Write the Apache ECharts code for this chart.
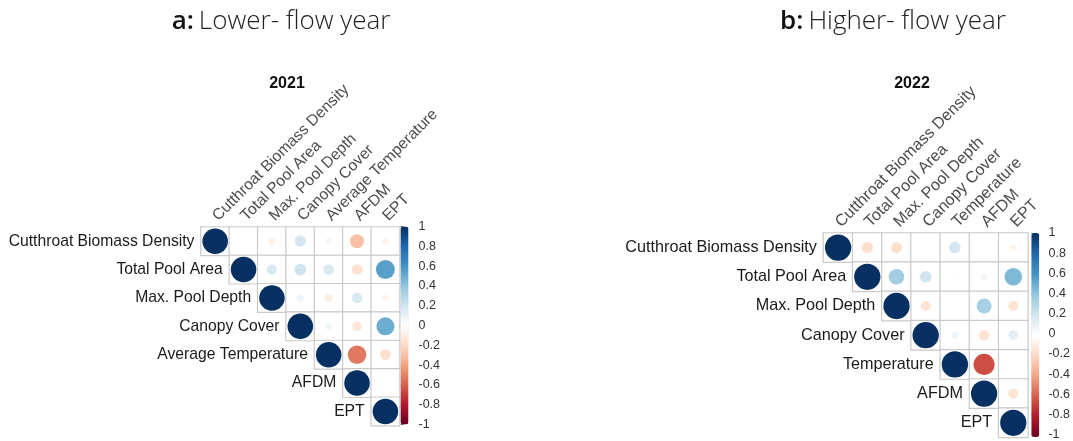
<!DOCTYPE html>
<html>
<head>
<meta charset="utf-8">
<script src="https://cdn.jsdelivr.net/npm/echarts@6/dist/echarts.min.js"></script>
<style>
  html, body { margin: 0; padding: 0; background: #fff; }
  #chart { width: 1073px; height: 441px; }
</style>
</head>
<body>
<div id="chart"></div>
<script>
// Variable names for each year's correlation matrix
const vars2021 = ['Cutthroat Biomass Density', 'Total Pool Area', 'Max. Pool Depth', 'Canopy Cover', 'Average Temperature', 'AFDM', 'EPT'];
const vars2022 = ['Cutthroat Biomass Density', 'Total Pool Area', 'Max. Pool Depth', 'Canopy Cover', 'Temperature', 'AFDM', 'EPT'];

// Upper-triangle Pearson correlations, row i holds columns i..6
const corr2021 = [
  [1, 0.01, -0.07, 0.19, 0.06, -0.30, -0.06],
  [1, 0.16, 0.21, 0.17, -0.17, 0.55],
  [1, 0.08, -0.10, 0.17, -0.06],
  [1, 0.07, -0.14, 0.50],
  [1, -0.53, -0.17],
  [1, 0.01],
  [1]
];
const corr2022 = [
  [1, -0.18, -0.18, -0.01, 0.19, 0.02, -0.06],
  [1, 0.35, 0.20, 0.02, 0.06, 0.45],
  [1, -0.15, 0.01, 0.33, -0.15],
  [1, 0.07, -0.16, 0.13],
  [1, -0.65, 0.00],
  [1, -0.15],
  [1]
];

// Colour bar scale
const scaleMin = -1, scaleMax = 1, scaleStep = 0.2;
const rdBu = ['#67001F', '#B2182B', '#D6604D', '#F4A582', '#FDDBC7', '#FFFFFF',
              '#D1E5F0', '#92C5DE', '#4393C3', '#2166AC', '#053061'];

const LABEL_FONT = '"Liberation Sans", Arial, sans-serif';
const LABEL_COLOR = '#1a1a1a';

function toPoints(corr) {
  const pts = [];
  corr.forEach((row, i) => row.forEach((v, k) => pts.push([i + k, i, v])));
  return pts;
}

function buildPanel(names, corr, box, fontSize) {
  const cell = box.size / names.length;
  const pts = toPoints(corr);
  const cells = pts.map(p => [p[0], p[1], 0]);
  // row names sit to the left of the diagonal circles
  const circles = pts.map(p => {
    const item = { value: p };
    if (p[0] === p[1]) {
      item.label = {
        show: true, position: 'left', distance: 8,
        formatter: () => names[p[1]],
        fontFamily: LABEL_FONT, fontSize: fontSize, color: LABEL_COLOR
      };
    }
    return item;
  });
  // column names: slanted text above each column of the first row
  const heads = names.map((n, j) => ({ value: [j, 0], name: n }));
  return { cell, cells, circles, heads, fontSize };
}

const boxL = { left: 201, top: 227, size: 198.6 };
const boxR = { left: 823.5, top: 233, size: 204.4 };
const panelL = buildPanel(vars2021, corr2021, boxL, 15.7);
const panelR = buildPanel(vars2022, corr2022, boxR, 16.2);

function matrixXAxis(idx, names) {
  return { gridIndex: idx, type: 'category', data: names, show: false };
}
function matrixYAxis(idx, names) {
  return { gridIndex: idx, type: 'category', data: names, inverse: true, show: false };
}
function barYAxis(idx) {
  return {
    gridIndex: idx, type: 'value', position: 'right',
    min: scaleMin, max: scaleMax, interval: scaleStep,
    axisLine: { show: false }, splitLine: { show: false },
    axisTick: { show: true, length: 3, lineStyle: { color: '#666' } },
    axisLabel: { margin: 10, fontFamily: LABEL_FONT, fontSize: 12.5, color: '#333' }
  };
}
function cellSeries(idx, data) {
  return {
    type: 'heatmap', xAxisIndex: idx, yAxisIndex: idx, data: data,
    itemStyle: { color: '#fff', borderColor: '#c9c9c9', borderWidth: 1.2 },
    emphasis: { disabled: true }, silent: true, z: 1
  };
}
function circleSeries(idx, data, cell) {
  return {
    type: 'scatter', xAxisIndex: idx, yAxisIndex: idx, data: data,
    symbol: 'circle',
    symbolSize: v => 0.9 * cell * Math.sqrt(Math.abs(v[2])),
    itemStyle: { opacity: 1 },
    emphasis: { disabled: true }, silent: true, z: 3
  };
}
function headerSeries(idx, panel) {
  return {
    type: 'scatter', xAxisIndex: idx, yAxisIndex: idx, data: panel.heads,
    symbol: 'rect', symbolSize: panel.cell,
    itemStyle: { color: 'rgba(0,0,0,0)' },
    label: {
      show: true, position: 'top', distance: 8.5, rotate: 45,
      align: 'left', verticalAlign: 'middle',
      formatter: p => p.name,
      fontFamily: LABEL_FONT, fontSize: panel.fontSize, color: LABEL_COLOR
    },
    labelLayout: { hideOverlap: false },
    emphasis: { disabled: true }, silent: true, z: 4
  };
}
function colourBar(seriesIndex, left, top, h) {
  return {
    type: 'continuous', seriesIndex: seriesIndex, dimension: 2,
    min: scaleMin, max: scaleMax, calculable: false, hoverLink: false,
    inRange: { color: rdBu }, left: left, top: top, padding: 0,
    itemWidth: 8, itemHeight: h, text: null, textGap: 0, show: true
  };
}

const headerRich = {
  b: { fontFamily: '"Open Sans", sans-serif', fontSize: 26, fontWeight: 600, color: '#111' },
  n: { fontFamily: '"Open Sans", sans-serif', fontSize: 26, fontWeight: 300, color: '#222' }
};

const option = {
  backgroundColor: '#fff',
  animation: false,
  title: [
    { text: '{b|a:} {n|Lower- flow year}', left: 276, top: 4, textAlign: 'center', textStyle: { rich: headerRich } },
    { text: '{b|b:} {n|Higher- flow year}', left: 888, top: 4, textAlign: 'center', textStyle: { rich: headerRich } },
    { text: '2021', left: 282, top: 71, textAlign: 'center',
      textStyle: { fontFamily: LABEL_FONT, fontSize: 16, fontWeight: 'bold', color: '#111' } },
    { text: '2022', left: 907, top: 71, textAlign: 'center',
      textStyle: { fontFamily: LABEL_FONT, fontSize: 16, fontWeight: 'bold', color: '#111' } }
  ],
  grid: [
    { left: boxL.left, top: boxL.top, width: boxL.size, height: boxL.size },
    { left: boxR.left, top: boxR.top, width: boxR.size, height: boxR.size },
    { left: 400.5, top: 226.5, width: 8, height: 198 },
    { left: 1031.3, top: 233, width: 8, height: 204 }
  ],
  xAxis: [
    matrixXAxis(0, vars2021),
    matrixXAxis(1, vars2022),
    { gridIndex: 2, type: 'value', show: false },
    { gridIndex: 3, type: 'value', show: false }
  ],
  yAxis: [
    matrixYAxis(0, vars2021),
    matrixYAxis(1, vars2022),
    barYAxis(2),
    barYAxis(3)
  ],
  visualMap: [
    colourBar(1, 400.5, 226.5, 198),
    colourBar(3, 1031.3, 233, 204)
  ],
  series: [
    cellSeries(0, panelL.cells),
    circleSeries(0, panelL.circles, panelL.cell),
    cellSeries(1, panelR.cells),
    circleSeries(1, panelR.circles, panelR.cell),
    headerSeries(0, panelL),
    headerSeries(1, panelR)
  ]
};

const chart = echarts.init(document.getElementById('chart'), null, { renderer: 'canvas' });
chart.setOption(option);
</script>
</body>
</html>
